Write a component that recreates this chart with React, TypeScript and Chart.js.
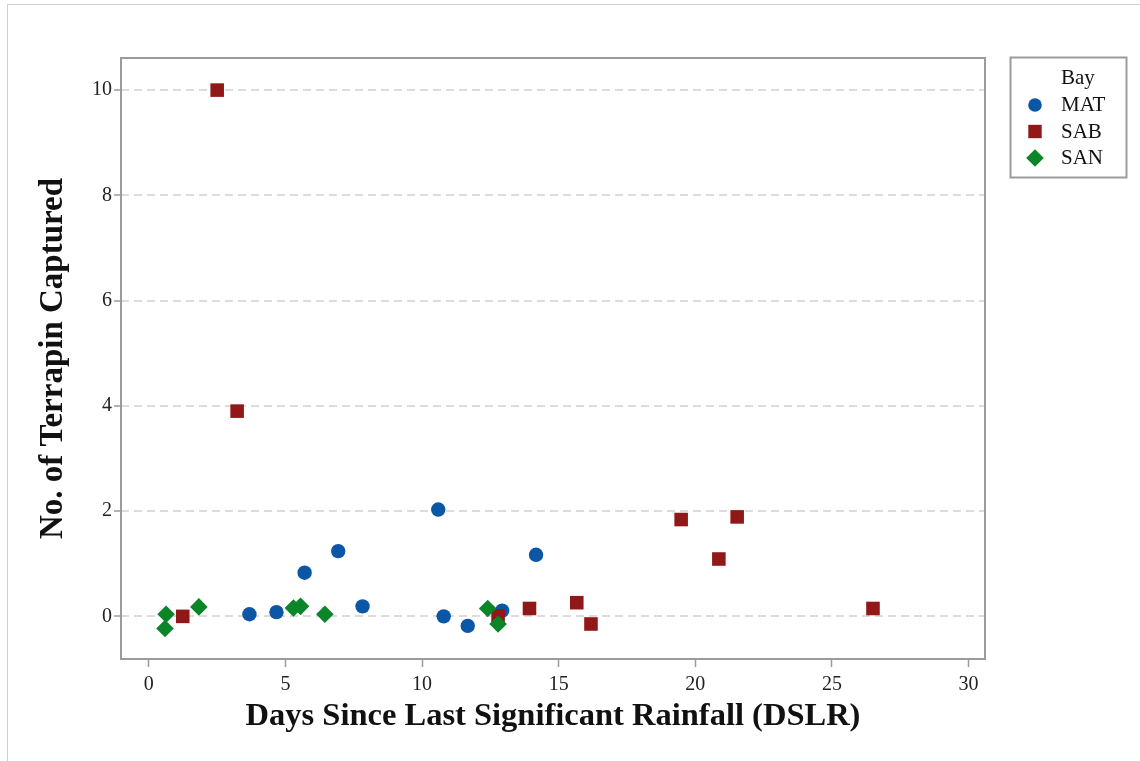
import React, { useEffect, useRef } from "react";
import { Chart, registerables } from "chart.js";

Chart.register(...registerables);

// ---- Data ----
const bayNames = ["MAT", "SAB", "SAN"];

const matDays = [3.68, 4.67, 5.7, 6.93, 7.82, 10.59, 10.79, 11.67, 12.93, 14.17];
const matCaptured = [0.04, 0.08, 0.83, 1.24, 0.19, 2.03, 0.0, -0.18, 0.11, 1.17];

const sabDays = [1.24, 2.5, 3.23, 12.78, 13.93, 15.66, 16.18, 19.48, 20.86, 21.53, 26.5];
const sabCaptured = [0.0, 10.0, 3.9, 0.01, 0.15, 0.26, -0.145, 1.84, 1.09, 1.89, 0.15];

const sanDays = [0.59, 0.63, 1.83, 5.29, 5.55, 6.44, 12.4, 12.78];
const sanCaptured = [-0.23, 0.04, 0.18, 0.16, 0.19, 0.04, 0.15, -0.145];

const xTickValues = [0, 5, 10, 15, 20, 25, 30];
const yTickValues = [0, 2, 4, 6, 8, 10];

const xAxisTitle = "Days Since Last Significant Rainfall (DSLR)";
const yAxisTitle = "No. of Terrapin Captured";
const legendTitle = "Bay";

// ---- Styles ----
const SERIF = "'Liberation Serif', 'Times New Roman', serif";
const seriesColors = ["#0B57A6", "#911818", "#0A8628"];
const seriesShapes = ["circle", "rect", "rectRot"];
const seriesRadius = [7.2, 9.6, 8.8];
const seriesOrder = [2, 1, 0];

const toPoints = (xs: number[], ys: number[]) => xs.map((x, i) => ({ x, y: ys[i] }));

const framePlugin = {
  id: "frameBox",
  beforeDatasetsDraw(chart: any) {
    const { ctx, chartArea } = chart;
    const { left, top, right, bottom } = chartArea;
    ctx.save();
    ctx.setLineDash([]);
    ctx.strokeStyle = "#9b9b9b";
    ctx.lineWidth = 2;
    ctx.strokeRect(left, top, right - left, bottom - top);
    ctx.restore();
  },
};

const legendPlugin = {
  id: "bayLegend",
  afterDraw(chart: any) {
    const ctx = chart.ctx as CanvasRenderingContext2D;
    const boxL = 1010.5, boxT = 57.5, boxW = 116, boxH = 120;
    ctx.save();
    ctx.setLineDash([]);
    ctx.fillStyle = "#ffffff";
    ctx.fillRect(boxL, boxT, boxW, boxH);
    ctx.strokeStyle = "#9b9b9b";
    ctx.lineWidth = 2;
    ctx.strokeRect(boxL, boxT, boxW, boxH);

    ctx.font = `21px ${SERIF}`;
    ctx.fillStyle = "#111111";
    ctx.textBaseline = "middle";
    ctx.textAlign = "left";
    ctx.fillText(legendTitle, 1061, 78);

    const rowsY = [105, 131.5, 158];
    const mx = 1035;
    chart.data.datasets.forEach((ds: any, i: number) => {
      const y = rowsY[i];
      ctx.fillStyle = ds.backgroundColor;
      ctx.beginPath();
      if (ds.pointStyle === "circle") {
        ctx.arc(mx, y, 6.8, 0, Math.PI * 2);
      } else if (ds.pointStyle === "rect") {
        ctx.rect(mx - 6.7, y - 6.7, 13.4, 13.4);
      } else {
        const r = 8.8;
        ctx.moveTo(mx, y - r);
        ctx.lineTo(mx + r, y);
        ctx.lineTo(mx, y + r);
        ctx.lineTo(mx - r, y);
        ctx.closePath();
      }
      ctx.fill();
      ctx.fillStyle = "#111111";
      ctx.fillText(ds.label, 1061, y + 0.5);
    });
    ctx.restore();
  },
};

export default function App() {
  const canvasRef = useRef<HTMLCanvasElement | null>(null);

  useEffect(() => {
    if (!canvasRef.current) return;
    const seriesX = [matDays, sabDays, sanDays];
    const seriesY = [matCaptured, sabCaptured, sanCaptured];

    const chart = new Chart(canvasRef.current, {
      type: "scatter",
      data: {
        datasets: bayNames.map((name, i) => ({
          label: name,
          data: toPoints(seriesX[i], seriesY[i]),
          backgroundColor: seriesColors[i],
          borderColor: seriesColors[i],
          borderWidth: 0,
          pointStyle: seriesShapes[i] as any,
          pointRadius: seriesRadius[i],
          pointHoverRadius: seriesRadius[i],
          order: seriesOrder[i],
        })),
      },
      options: {
        responsive: false,
        animation: false,
        devicePixelRatio: 1,
        layout: { padding: { left: 0, right: 155, top: 58, bottom: 0 } },
        plugins: {
          legend: { display: false },
          tooltip: { enabled: false },
        },
        scales: {
          x: {
            type: "linear",
            min: -1.02,
            max: 30.6,
            afterFit: (s: any) => {
              s.height = 102;
            },
            afterBuildTicks: (s: any) => {
              s.ticks = xTickValues.map((v) => ({ value: v }));
            },
            grid: {
              drawOnChartArea: false,
              drawTicks: true,
              tickLength: 8,
              tickColor: "#9b9b9b",
              tickWidth: 1.5,
            },
            border: { display: false },
            ticks: {
              color: "#222222",
              padding: 6,
              font: { family: SERIF, size: 20 },
              maxRotation: 0,
            },
            title: {
              display: true,
              text: xAxisTitle,
              color: "#111111",
              font: { family: SERIF, size: 32.5, weight: "bold" },
              padding: { top: 0, bottom: 25 },
            },
          },
          y: {
            type: "linear",
            min: -0.81,
            max: 10.61,
            afterFit: (s: any) => {
              s.width = 121;
            },
            afterBuildTicks: (s: any) => {
              s.ticks = yTickValues.map((v) => ({ value: v }));
            },
            grid: {
              drawOnChartArea: true,
              drawTicks: true,
              color: "#dcdcdc",
              lineWidth: 2,
              tickLength: 7,
              tickColor: "#9b9b9b",
              tickWidth: 1.5,
              tickBorderDash: [],
            },
            border: { display: false, dash: [8, 5] },
            ticks: {
              color: "#222222",
              padding: 2,
              font: { family: SERIF, size: 20 },
            },
            title: {
              display: true,
              text: yAxisTitle,
              color: "#111111",
              font: { family: SERIF, size: 33, weight: "bold" },
              padding: { top: 34, bottom: 0 },
            },
          },
        },
      },
      plugins: [framePlugin, legendPlugin],
    } as any);

    return () => chart.destroy();
  }, []);

  return (
    <div
      style={{
        position: "absolute",
        left: 0,
        top: 0,
        width: 1140,
        height: 761,
        overflow: "hidden",
        background: "#ffffff",
      }}
    >
      <div
        style={{
          position: "absolute",
          left: 7,
          top: 4,
          width: 1200,
          height: 800,
          borderLeft: "1px solid #cfcfcf",
          borderTop: "1px solid #cfcfcf",
        }}
      />
      <canvas
        ref={canvasRef}
        width={1140}
        height={761}
        style={{ position: "absolute", left: 0, top: 0, display: "block" }}
      />
    </div>
  );
}
